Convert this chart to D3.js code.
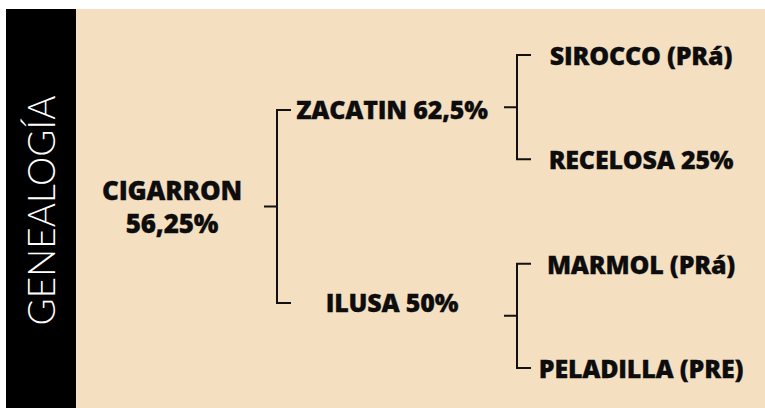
<!DOCTYPE html>
<html>
<head>
<meta charset="utf-8">
<script src="https://cdn.jsdelivr.net/npm/d3@7"></script>
<style>
  body { margin: 0; background: #fff; }
  .label { font-family: "Open Sans", sans-serif; font-weight: 800; fill: #0d0d0d;
           stroke: #0d0d0d; stroke-width: 0.3; letter-spacing: -0.2px; }
  .bracket { fill: none; stroke: #111; stroke-width: 2; }
</style>
</head>
<body>
<div id="chart"></div>
<script>
  // genealogy: root -> parents -> grandparents
  var title = 'GENEALOGÍA',
      rootName = 'CIGARRON',
      rootValue = '56,25%',
      parents = ['ZACATIN 62,5%', 'ILUSA 50%'],
      grandparents = ['SIROCCO (PRá)', 'RECELOSA 25%', 'MARMOL (PRá)', 'PELADILLA (PRE)'],
      grandparentOf = [0, 0, 1, 1];

  var width = 765,
      height = 408,
      panel = { top: 9, left: 6, bar: 70 };

  function translate(x, y) {
    return 'translate(' + x + ',' + y + ')';
  }

  // x: centre of each generation's labels, and where each bracket spine sits
  var labelX = d3.scaleOrdinal().domain([0, 1, 2]).range([172, 392, 641]),
      spineX = d3.scaleOrdinal().domain([0, 1]).range([277, 517]),
      tick = 13,
      arm = 14;

  // y: one point scale per generation
  var y1 = d3.scalePoint().domain(parents).range([110, 303]),
      y2 = d3.scalePoint().domain(grandparents).range([55, 368]);

  var svg = d3.select('#chart')
    .append('svg')
      .attr('width', width)
      .attr('height', height);

  svg.append('rect')
    .attr('x', panel.left + panel.bar)
    .attr('y', panel.top)
    .attr('width', width - panel.left - panel.bar)
    .attr('height', height - panel.top)
    .attr('fill', '#f5dfc1');

  svg.append('rect')
    .attr('x', panel.left)
    .attr('y', panel.top)
    .attr('width', panel.bar)
    .attr('height', height - panel.top)
    .attr('fill', '#000');

  svg.append('text')
    .attr('transform', translate(panel.left + 49, (panel.top + height) / 2 + 2) + ' rotate(-90)')
    .attr('text-anchor', 'middle')
    .style('font-family', 'Lato, sans-serif')
    .style('font-weight', 300)
    .style('font-size', '37px')
    .style('fill', '#fff')
    .text(title);

  function bracket(x, yTop, yBottom) {
    var mid = (yTop + yBottom) / 2;
    return 'M' + (x + arm) + ',' + yTop + 'H' + x + 'V' + yBottom + 'H' + (x + arm) +
           'M' + (x - tick) + ',' + mid + 'H' + x;
  }

  // root bracket
  svg.append('path')
    .attr('class', 'bracket')
    .attr('d', bracket(spineX(0), y1(parents[0]), y1(parents[parents.length - 1])));

  // one bracket per parent
  svg.selectAll('.bracket-p')
    .data(parents)
    .enter().append('path')
      .attr('class', 'bracket bracket-p')
      .attr('d', function(d, i) {
        var kids = grandparents.filter(function(g, j) { return grandparentOf[j] == i; });
        return bracket(spineX(1), y2(kids[0]), y2(kids[kids.length - 1]));
      });

  var rootY = (y1(parents[0]) + y1(parents[parents.length - 1])) / 2;

  var root = svg.append('text')
    .attr('class', 'label')
    .attr('text-anchor', 'middle')
    .style('font-size', '26px');
  root.append('tspan').attr('x', labelX(0)).attr('y', rootY - 7).text(rootName);
  root.append('tspan').attr('x', labelX(0)).attr('y', rootY + 26).text(rootValue);

  svg.selectAll('.label-p')
    .data(parents)
    .enter().append('text')
      .attr('class', 'label label-p')
      .attr('text-anchor', 'middle')
      .attr('x', labelX(1))
      .attr('y', function(d) { return y1(d) + 9; })
      .style('font-size', '25px')
      .text(function(d) { return d; });

  svg.selectAll('.label-g')
    .data(grandparents)
    .enter().append('text')
      .attr('class', 'label label-g')
      .attr('text-anchor', 'middle')
      .attr('x', labelX(2))
      .attr('y', function(d) { return y2(d) + 10; })
      .style('font-size', '25px')
      .text(function(d) { return d; });
</script>
</body>
</html>
